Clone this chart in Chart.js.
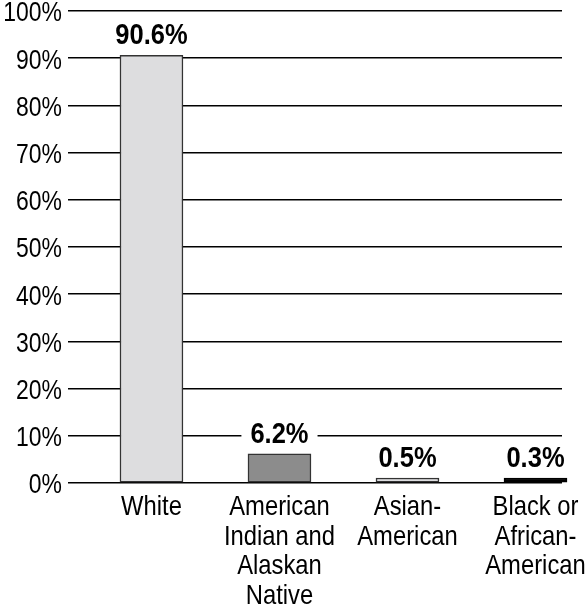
<!DOCTYPE html>
<html>
<head>
<meta charset="utf-8">
<script src="https://cdn.jsdelivr.net/npm/chart.js@4.4.0/dist/chart.umd.min.js"></script>
<style>
  html, body { margin: 0; padding: 0; background: #fff; }
  canvas { display: block; }
</style>
</head>
<body>
<canvas id="chart" width="586" height="605"></canvas>
<script>
// kategorier, en linje per element
const categories = [
    ['White'],
    ['American', 'Indian and', 'Alaskan', 'Native'],
    ['Asian-', 'American'],
    ['Black or', 'African-', 'American']
];
const values = [90.6, 6.2, 0.5, 0.3];               // prosent
const barColors = ['#dddddf', '#8c8c8c', '#dddddf', '#000000'];
const barBorders = ['#333333', '#333333', '#333333', '#000000'];
const yTicks = [0, 10, 20, 30, 40, 50, 60, 70, 80, 90, 100];

const fontFamily = "'Liberation Sans', Arial, sans-serif";
const squeeze = 0.85;   // originalen bruker en smalere Helvetica

// presser all tekst litt sammen horisontalt
const narrowText = {
    id: 'narrowText',
    beforeDraw(chart) {
        const c = chart.ctx;
        if (c._narrow) return;
        const orig = c.fillText;
        c.fillText = function (t, x, y, mw) {
            this.save();
            this.translate(x, y);
            this.scale(squeeze, 1);
            orig.call(this, t, 0, 0, mw);
            this.restore();
        };
        c._narrow = true;
    }
};

// skriver verdien over hver søyle, med hvit bakgrunn som bryter rutenettet
const valueLabels = {
    id: 'valueLabels',
    afterDatasetsDraw(chart) {
        const ctx = chart.ctx;
        const meta = chart.getDatasetMeta(0);
        ctx.save();
        ctx.font = `bold 30px ${fontFamily}`;
        ctx.textAlign = 'center';
        ctx.textBaseline = 'alphabetic';
        meta.data.forEach((bar, i) => {
            const txt = `${values[i].toFixed(1)}%`;
            const w = ctx.measureText(txt).width * squeeze;
            const y = bar.y - 11;
            ctx.fillStyle = '#fff';
            ctx.fillRect(bar.x - w / 2 - 9, y - 24, w + 18, 28);
            ctx.fillStyle = '#000';
            ctx.fillText(txt, bar.x, y);
        });
        ctx.restore();
    }
};

const ctx = document.getElementById('chart').getContext('2d');
const chart = new Chart(ctx, {
    type: 'bar',
    data: {
        datasets: [{
            data: values.map((v, i) => ({ x: i, y: v })),
            backgroundColor: barColors,
            borderColor: barBorders,
            borderWidth: 1.5,
            borderSkipped: false,
            barThickness: 63,
            minBarLength: 5,
            clip: false
        }]
    },
    options: {
        responsive: false,
        animation: false,
        layout: { padding: { top: 11, right: 24, left: 0, bottom: 0 } },
        plugins: {
            legend: { display: false },
            tooltip: { enabled: false }
        },
        scales: {
            x: {
                type: 'linear',
                offset: false,
                min: -0.652,
                max: 3.207,
                grid: { display: false },
                border: { display: false },
                afterBuildTicks: (scale) => {
                    scale.ticks = categories.map((c, i) => ({ value: i }));
                },
                afterFit: (scale) => {
                    scale.height = 122;
                    scale.paddingLeft = 0;
                    scale.paddingRight = 0;
                },
                ticks: {
                    color: '#000',
                    padding: 2,
                    maxRotation: 0,
                    autoSkip: false,
                    font: { family: fontFamily, size: 28, lineHeight: 1.05 },
                    callback: (v) => categories[v]
                }
            },
            y: {
                min: 0,
                max: 100,
                afterBuildTicks: (scale) => {
                    scale.ticks = yTicks.map(v => ({ value: v }));
                },
                afterFit: (scale) => {
                    scale.width = 68;
                    scale.paddingTop = 0;
                    scale.paddingBottom = 0;
                },
                grid: { color: '#000', lineWidth: 1.5, drawTicks: false },
                border: { display: false },
                ticks: {
                    color: '#000',
                    padding: 6,
                    labelOffset: 3,
                    font: { family: fontFamily, size: 27 },
                    callback: (v) => `${v}%`
                }
            }
        }
    },
    plugins: [narrowText, valueLabels]
});
</script>
</body>
</html>
